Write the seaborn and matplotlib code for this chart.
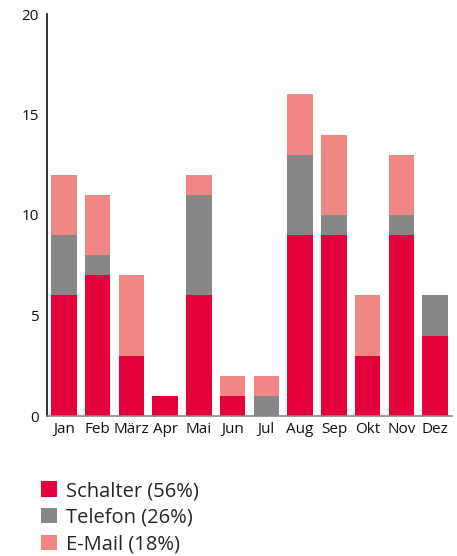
import numpy as np
import pandas as pd
import matplotlib
matplotlib.use("Agg")
import matplotlib.pyplot as plt
from matplotlib.patches import Patch
import seaborn as sns

months = ["Jan", "Feb", "März", "Apr", "Mai", "Jun", "Jul", "Aug", "Sep", "Okt", "Nov", "Dez"]
schalter = [6, 7, 3, 1, 6, 1, 0, 9, 9, 3, 9, 4]
telefon = [3, 1, 0, 0, 5, 0, 1, 4, 1, 0, 1, 2]
email = [3, 3, 4, 0, 1, 1, 1, 3, 4, 3, 3, 0]
series_labels = ["Schalter (56%)", "Telefon (26%)", "E-Mail (18%)"]
colors = ["#E4003A", "#878787", "#F08784"]
y_ticks = [0, 5, 10, 15, 20]

sns.set_style("white")
plt.rcParams["font.family"] = ["Open Sans", "DejaVu Sans"]

fig = plt.figure(figsize=(4.57, 5.56), dpi=100)
ax = fig.add_axes([47 / 457, 1 - 416 / 556, (452 - 47) / 457, (416 - 14) / 556])

df = pd.DataFrame({"month": months, "Schalter": schalter, "Telefon": telefon, "E-Mail": email})
bottom = np.zeros(len(months))
for col, color in zip(["Schalter", "Telefon", "E-Mail"], colors):
    sns.barplot(data=df, x="month", y=col, color=color, width=0.75,
                bottom=bottom.copy(), ax=ax, saturation=1, linewidth=0,
                edgecolor="none", order=months)
    bottom = bottom + df[col].values

ax.set_xlim(-0.5, 11.5)
ax.set_ylim(0, 20)
ax.set_yticks(y_ticks)
ax.set_xlabel("")
ax.set_ylabel("")
for s in ["top", "right"]:
    ax.spines[s].set_visible(False)
ax.spines["left"].set_color("#111111")
ax.spines["left"].set_linewidth(1.2)
ax.spines["bottom"].set_color("#888888")
ax.spines["bottom"].set_linewidth(1.2)

ax.tick_params(axis="y", direction="in", length=10, width=0.8, color="#aaaaaa",
               labelsize=11, pad=6, labelcolor="#111111")
ax.tick_params(axis="x", which="major", length=0, labelsize=11, pad=4, labelcolor="#111111")
ax.set_xticks(np.arange(-0.5, 12, 1), minor=True)
ax.tick_params(axis="x", which="minor", direction="in", length=6, width=0.8, color="#aaaaaa")

handles = [Patch(facecolor=c, edgecolor="none") for c in colors]
fig.legend(handles, series_labels, loc="upper left", bbox_to_anchor=(33 / 457, 1 - 473 / 556),
           frameon=False, fontsize=14.5, handlelength=0.8, handleheight=0.8,
           handletextpad=0.45, labelspacing=0.33, borderaxespad=0)

fig.savefig("out.png", dpi=100)
